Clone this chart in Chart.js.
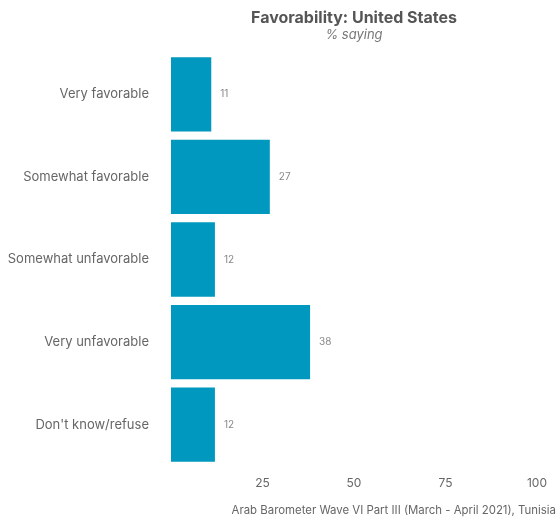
<!DOCTYPE html>
<html>
<head>
<meta charset="utf-8">
<script src="https://cdn.jsdelivr.net/npm/chart.js@4"></script>
<style>
html,body{margin:0;padding:0;background:#fff;}
#wrap{width:557px;height:521px;position:relative;}
</style>
</head>
<body>
<div id="wrap"><canvas id="c" width="557" height="521"></canvas></div>
<script>
const categories = ["Very favorable", "Somewhat favorable", "Somewhat unfavorable", "Very unfavorable", "Don't know/refuse"];
const values = [11, 27, 12, 38, 12];
const xTicks = [25, 50, 75, 100];
const titleText = "Favorability: United States";
const subtitleText = "% saying";
const captionText = "Arab Barometer Wave VI Part III (March - April 2021), Tunisia";

const FONT = "Inter, 'Open Sans', sans-serif";
const BAR = "#0098BE";

const textPlugin = {
  id: 'texts',
  afterDatasetsDraw(chart) {
    const ctx = chart.ctx;
    const ca = chart.chartArea;
    const cx = (ca.left + ca.right) / 2;
    ctx.save();
    ctx.textAlign = 'center';
    ctx.textBaseline = 'middle';
    ctx.fillStyle = '#555';
    ctx.font = "bold 16px " + FONT;
    ctx.fillText(titleText, cx, 18);
    ctx.fillStyle = '#777';
    ctx.font = "italic 13px " + FONT;
    ctx.fillText(subtitleText, cx, 35);
    // data labels
    const meta = chart.getDatasetMeta(0);
    ctx.font = "10px " + FONT;
    ctx.fillStyle = '#888';
    ctx.textAlign = 'left';
    meta.data.forEach((bar, i) => {
      ctx.fillText(String(values[i]), bar.x + 9, bar.y);
    });
    // caption
    ctx.font = "11.4px " + FONT;
    ctx.fillStyle = '#666';
    ctx.textAlign = 'right';
    ctx.fillText(captionText, 556, 511);
    ctx.restore();
  }
};

new Chart(document.getElementById('c'), {
  type: 'bar',
  data: {
    labels: categories,
    datasets: [{
      data: values,
      backgroundColor: BAR,
      borderWidth: 0,
      categoryPercentage: 1,
      barPercentage: 0.9
    }]
  },
  options: {
    indexAxis: 'y',
    responsive: false,
    animation: false,
    devicePixelRatio: 1,
    layout: { padding: { top: 53, right: 19, bottom: 0, left: 0 } },
    plugins: { legend: { display: false }, tooltip: { enabled: false } },
    scales: {
      x: {
        min: 0, max: 100,
        afterBuildTicks(scale) { scale.ticks = xTicks.map(v => ({ value: v })); },
        afterFit(scale) { scale.height = 55; },
        grid: { display: false, drawTicks: false },
        border: { display: false },
        ticks: {
          padding: 10,
          color: '#666',
          font: { family: FONT, size: 12 }
        }
      },
      y: {
        afterFit(scale) { scale.width = 171; },
        grid: { display: false, drawTicks: false },
        border: { display: false },
        ticks: {
          padding: 22,
          color: '#666',
          font: { family: FONT, size: 13 }
        }
      }
    }
  },
  plugins: [textPlugin]
});
</script>
</body>
</html>
